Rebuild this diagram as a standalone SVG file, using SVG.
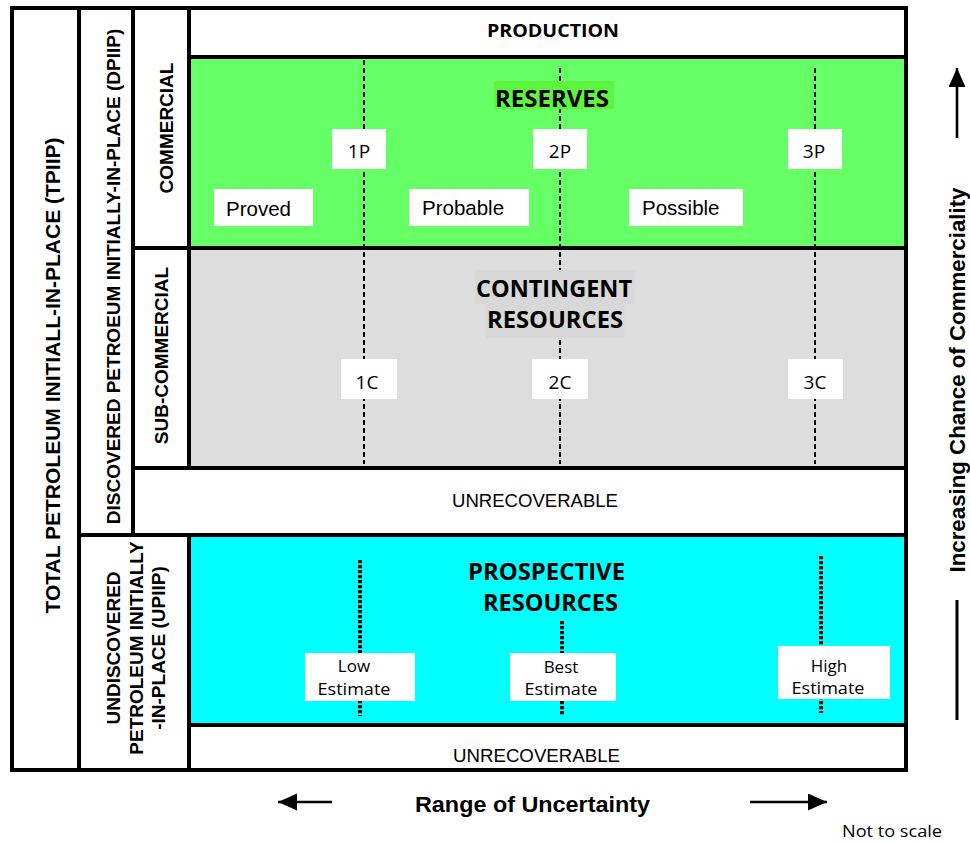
<svg xmlns="http://www.w3.org/2000/svg" width="970" height="842" viewBox="0 0 970 842">
<defs>
<style>
.cell{stroke:#000;stroke-width:4}
.w{fill:#fff}
.box{fill:#fff}
.vt{font-family:"Liberation Sans",Arial,sans-serif;font-weight:bold;font-size:19px;fill:#000;text-anchor:middle}
.cal{font-family:"Open Sans","Noto Sans",sans-serif;font-size:19px;fill:#000;text-anchor:middle}
.est{font-family:"Open Sans","Noto Sans",sans-serif;font-size:17px;fill:#000;text-anchor:middle}
.head{font-family:"Open Sans","Noto Sans",sans-serif;font-weight:bold;font-size:23.5px;fill:#000;text-anchor:middle}
.ar{font-family:"Liberation Sans",Arial,sans-serif;font-size:20.5px;fill:#000}
.unrec{font-family:"Liberation Sans",Arial,sans-serif;font-size:18px;fill:#000;text-anchor:middle}
.axis{font-family:"Liberation Sans",Arial,sans-serif;font-weight:bold;font-size:21.5px;fill:#000;text-anchor:middle}
.dash{stroke:#000;stroke-width:2;stroke-dasharray:5 3;fill:none}
.dot{stroke:#000;stroke-width:4;stroke-dasharray:3.3 1.7;fill:none}
.arrow{stroke:#000;stroke-width:2.6;fill:none;marker-end:url(#ah)}
</style>
<marker id="ah" markerUnits="userSpaceOnUse" markerWidth="20" markerHeight="18" refX="19" refY="8.5" orient="auto"><path d="M0,0 L19,8.5 L0,17 Z" fill="#000"/></marker>
</defs>

<g id="tpiip"><rect class="cell w" x="12" y="8" width="67" height="762"/><text class="vt" style="font-size:21px" transform="translate(60,375.5) rotate(-90)">TOTAL PETROLEUM INITIALL-IN-PLACE (TPIIP)</text></g>
<g id="dpiip"><rect class="cell w" x="79" y="8" width="54" height="527"/><text class="vt" transform="translate(120,276.5) rotate(-90)">DISCOVERED PETROEUM INITIALLY-IN-PLACE (DPIIP)</text></g>
<g id="upiip"><rect class="cell w" x="79" y="535" width="110" height="235"/>
<text class="vt" transform="translate(120,648) rotate(-90)">UNDISCOVERED</text>
<text class="vt" transform="translate(142.5,648) rotate(-90)">PETROLEUM INITIALLY</text>
<text class="vt" transform="translate(165,648) rotate(-90)">-IN-PLACE (UPIIP)</text></g>
<g id="commercial"><rect class="cell w" x="133" y="8" width="56" height="240"/><text class="vt" transform="translate(173,128) rotate(-90)">COMMERCIAL</text></g>
<g id="subcommercial"><rect class="cell w" x="133" y="248" width="56" height="220"/><text class="vt" transform="translate(168,355.5) rotate(-90)">SUB-COMMERCIAL</text></g>
<g id="production"><rect class="cell w" x="189" y="8" width="717" height="49"/><text class="head" style="font-size:18px" x="553" y="37" textLength="132" lengthAdjust="spacingAndGlyphs">PRODUCTION</text></g>
<g id="reserves-area"><rect class="cell" fill="#66ff66" x="189" y="57" width="717" height="191"/></g>
<g id="contingent-area"><rect class="cell" fill="#dddddd" x="189" y="248" width="717" height="220"/></g>
<g id="unrecoverable-1"><rect class="cell w" x="133" y="468" width="773" height="67"/><text class="unrec" x="535" y="507" textLength="166" lengthAdjust="spacingAndGlyphs">UNRECOVERABLE</text></g>
<g id="prospective-area"><rect class="cell" fill="#00ffff" x="189" y="535" width="717" height="190"/></g>
<g id="unrecoverable-2"><rect class="cell w" x="189" y="725" width="717" height="45"/><text class="unrec" x="536.5" y="762" textLength="167" lengthAdjust="spacingAndGlyphs">UNRECOVERABLE</text></g>

<g id="connectors">
<line class="dash" x1="364" y1="60" x2="364" y2="464"/>
<line class="dash" x1="560" y1="68" x2="560" y2="464"/>
<line class="dash" x1="815" y1="68" x2="815" y2="464"/>
<line class="dot" x1="360" y1="560" x2="360" y2="716"/>
<line class="dot" x1="562" y1="621" x2="562" y2="715"/>
<line class="dot" x1="821" y1="556" x2="821" y2="713"/>
<line class="arrow" x1="332" y1="802" x2="278" y2="802"/>
<line class="arrow" x1="750" y1="802" x2="827" y2="802"/>
<line class="arrow" x1="957" y1="138" x2="957" y2="68"/>
<line stroke="#000" stroke-width="3" x1="957" y1="600" x2="957" y2="720"/>
</g>

<g id="reserves-title"><rect fill="#5df53d" x="494" y="81" width="120" height="28"/><text class="head" x="552" y="107" textLength="114" lengthAdjust="spacingAndGlyphs">RESERVES</text></g>
<g id="contingent-title"><rect fill="#d8d8d8" x="475" y="270" width="160" height="34"/><rect fill="#d8d8d8" x="486" y="304" width="139" height="34"/>
<text class="head" x="554" y="297" textLength="156" lengthAdjust="spacingAndGlyphs">CONTINGENT</text>
<text class="head" x="555" y="328" textLength="136" lengthAdjust="spacingAndGlyphs">RESOURCES</text></g>
<g id="prospective-title"><text class="head" x="546.5" y="580" textLength="157" lengthAdjust="spacingAndGlyphs">PROSPECTIVE</text>
<text class="head" x="550.5" y="611" textLength="135" lengthAdjust="spacingAndGlyphs">RESOURCES</text></g>

<g id="p1"><rect class="box" x="332" y="129" width="54" height="40"/><text class="cal" x="359" y="158">1P</text></g>
<g id="p2"><rect class="box" x="533" y="129" width="54" height="40"/><text class="cal" x="560" y="158">2P</text></g>
<g id="p3"><rect class="box" x="788" y="129" width="54" height="40"/><text class="cal" x="814" y="158">3P</text></g>
<g id="proved"><rect class="box" x="214" y="189" width="99" height="37"/><text class="ar" x="226" y="216">Proved</text></g>
<g id="probable"><rect class="box" x="409" y="189" width="120" height="37"/><text class="ar" x="422" y="215">Probable</text></g>
<g id="possible"><rect class="box" x="629" y="189" width="114" height="37"/><text class="ar" x="642" y="215">Possible</text></g>
<g id="c1"><rect class="box" x="341" y="359" width="56" height="40"/><text class="cal" x="367" y="389">1C</text></g>
<g id="c2"><rect class="box" x="532" y="359" width="56" height="40"/><text class="cal" x="560" y="389">2C</text></g>
<g id="c3"><rect class="box" x="788" y="359" width="55" height="40"/><text class="cal" x="815" y="389">3C</text></g>
<g id="low"><rect class="box" x="305" y="653" width="110" height="48"/><text class="est" x="354" y="672">Low</text><text class="est" x="354" y="695" textLength="73" lengthAdjust="spacingAndGlyphs">Estimate</text></g>
<g id="best"><rect class="box" x="510" y="653" width="106" height="48"/><text class="est" x="561" y="673">Best</text><text class="est" x="561" y="695" textLength="73" lengthAdjust="spacingAndGlyphs">Estimate</text></g>
<g id="high"><rect class="box" x="778" y="646" width="112" height="53"/><text class="est" x="829" y="672">High</text><text class="est" x="828" y="694" textLength="73" lengthAdjust="spacingAndGlyphs">Estimate</text></g>

<g id="range-label"><text class="axis" x="532.5" y="812" textLength="235" lengthAdjust="spacingAndGlyphs">Range of Uncertainty</text></g>
<g id="commerciality-label"><text class="axis" transform="translate(965,380) rotate(-90)" textLength="385" lengthAdjust="spacingAndGlyphs">Increasing Chance of Commerciality</text></g>
<g id="scale-note"><text class="cal" style="font-size:16px;text-anchor:start" x="842" y="837" textLength="100" lengthAdjust="spacingAndGlyphs">Not to scale</text></g>
</svg>
